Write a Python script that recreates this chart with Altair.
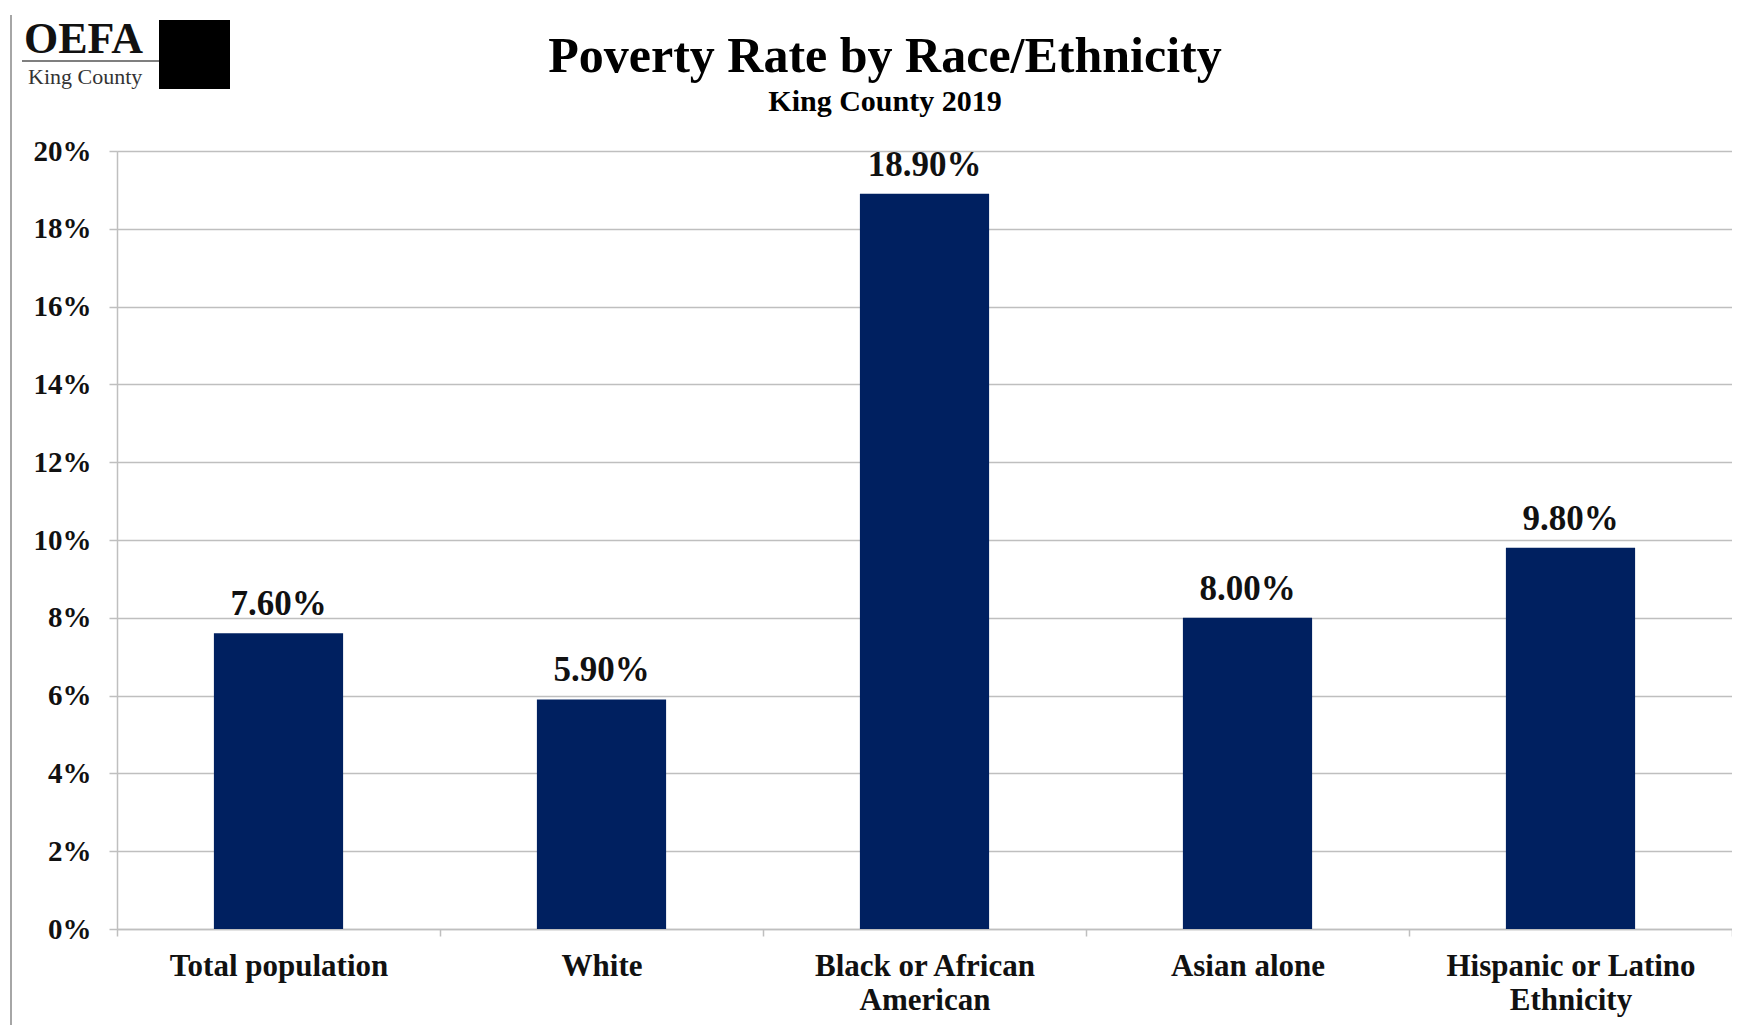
import altair as alt
import pandas as pd

categories = ["Total population", "White", "Black or African American", "Asian alone", "Hispanic or Latino Ethnicity"]
rates = [7.6, 5.9, 18.9, 8.0, 9.8]
y_ticks = [0, 2, 4, 6, 8, 10, 12, 14, 16, 18, 20]
label_lines = {
    "Black or African American": ["Black or African", "American"],
    "Hispanic or Latino Ethnicity": ["Hispanic or Latino", "Ethnicity"],
}
title_text = "Poverty Rate by Race/Ethnicity"
subtitle_text = "King County 2019"

df = pd.DataFrame({"category": categories, "rate": rates})

FONT = "Liberation Serif"
NAVY = "#002060"
GRID = "#BFBFBF"

expr = "datum.label"
for k, v in label_lines.items():
    expr = f"datum.label == '{k}' ? {v!r} : ({expr})"

base = alt.Chart(df)

bars = base.mark_bar(color=NAVY, width=alt.RelativeBandSize(0.4)).encode(
    x=alt.X("category:N", sort=categories, title=None,
            scale=alt.Scale(paddingInner=0, paddingOuter=0),
            axis=alt.Axis(labelAngle=0, labelFont=FONT, labelFontSize=31, labelFontWeight="bold",
                          labelColor="#111111", labelExpr=expr, labelLineHeight=34, labelLimit=500,
                          tickBand="extent", tickSize=7, tickColor=GRID, tickWidth=1.5,
                          domainColor=GRID, domainWidth=1.5, labelPadding=15, grid=False)),
    y=alt.Y("rate:Q", title=None,
            scale=alt.Scale(domain=[0, 20]),
            axis=alt.Axis(values=y_ticks, labelExpr="datum.value + '%'", labelFont=FONT,
                          labelFontSize=29, labelFontWeight="bold", labelColor="#111111",
                          tickSize=8, tickColor=GRID, tickWidth=1.5, labelPadding=18,
                          domainColor=GRID, domainWidth=1.5,
                          grid=True, gridColor=GRID, gridWidth=1.5)),
)

labels = base.transform_calculate(
    txt="format(datum.rate, '.2f') + '%'"
).mark_text(font=FONT, fontSize=35, fontWeight="bold", color="#111111",
            baseline="bottom", dy=-11).encode(
    x=alt.X("category:N", sort=categories),
    y=alt.Y("rate:Q"),
    text="txt:N",
)

# title, subtitle and logo decorations
one = alt.Chart(pd.DataFrame({"k": [0]}))
title = one.mark_text(text=title_text, font=FONT, fontSize=50, fontWeight="bold", color="#000000",
                      align="center", baseline="alphabetic").encode(x=alt.value(768), y=alt.value(-79))
subtitle = one.mark_text(text=subtitle_text, font=FONT, fontSize=30, fontWeight="bold", color="#000000",
                         align="center", baseline="alphabetic").encode(x=alt.value(768), y=alt.value(-40))
oefa = one.mark_text(text="OEFA", font=FONT, fontSize=44, fontWeight="bold", color="#111111",
                     align="left", baseline="alphabetic").encode(x=alt.value(-93), y=alt.value(-98))
kc = one.mark_text(text="King County", font=FONT, fontSize=22, color="#333333",
                   align="left", baseline="alphabetic").encode(x=alt.value(-89), y=alt.value(-67))
logo_line = one.mark_rule(color="#7F7F7F", strokeWidth=2).encode(
    x=alt.value(-95), x2=alt.value(42), y=alt.value(-90))
logo_box = one.mark_rect(color="#000000").encode(
    x=alt.value(42), x2=alt.value(113), y=alt.value(-131), y2=alt.value(-62))
left_border = one.mark_rule(color="#A6A6A6", strokeWidth=2).encode(
    x=alt.value(-106), y=alt.value(-136), y2=alt.value(900))

chart = alt.layer(bars, labels, title, subtitle, oefa, kc, logo_line, logo_box, left_border).properties(
    width=1615, height=778,
    autosize=alt.AutoSizeParams(type="none"),
    padding={"left": 109, "top": 143, "right": 0, "bottom": 96},
).configure_view(stroke=None).configure(background="white")

chart.save("out.html", embed_options={"renderer": "svg", "actions": False})
